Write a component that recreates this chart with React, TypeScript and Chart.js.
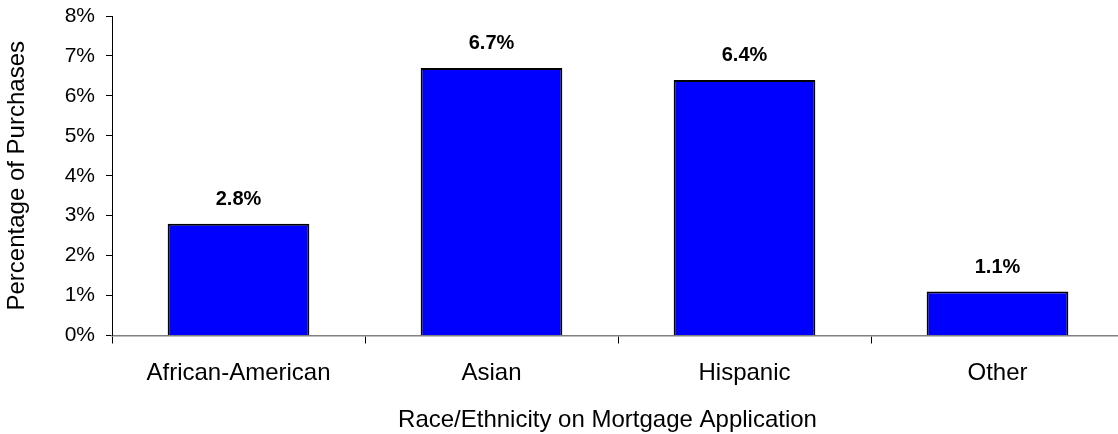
import { useEffect, useRef } from "react";
import { Chart, registerables } from "chart.js";

Chart.register(...registerables);

const categories = ["African-American", "Asian", "Hispanic", "Other"];
const purchaseShare = [2.8, 6.7, 6.4, 1.1];
const yTickValues = [0, 1, 2, 3, 4, 5, 6, 7, 8];
const yAxisTitle = "Percentage of Purchases";
const xAxisTitle = "Race/Ethnicity on Mortgage Application";

const FONT = '"Liberation Sans", Arial, Helvetica, sans-serif';

const valueLabels = {
  id: "valueLabels",
  afterDatasetsDraw(chart: any) {
    const ctx = chart.ctx;
    const meta = chart.getDatasetMeta(0);
    ctx.save();
    ctx.font = `bold 20px ${FONT}`;
    ctx.fillStyle = "#000";
    ctx.textAlign = "center";
    ctx.textBaseline = "alphabetic";
    meta.data.forEach((el: any, i: number) => {
      ctx.fillText(purchaseShare[i].toFixed(1) + "%", el.x, el.y - 18.5);
    });
    ctx.restore();
  },
};

const xTitlePlugin = {
  id: "xTitlePlugin",
  afterDraw(chart: any) {
    const ctx = chart.ctx;
    const area = chart.chartArea;
    ctx.save();
    ctx.font = `24px ${FONT}`;
    ctx.fillStyle = "#000";
    ctx.textAlign = "center";
    ctx.textBaseline = "middle";
    ctx.fillText(xAxisTitle, (area.left + area.right) / 2 - 10.5, chart.height - 14);
    ctx.restore();
  },
};

export default function App() {
  const canvasRef = useRef<HTMLCanvasElement | null>(null);

  useEffect(() => {
    if (!canvasRef.current) return;
    const chart = new Chart(canvasRef.current, {
      type: "bar",
      data: {
        labels: categories,
        datasets: [
          {
            data: purchaseShare,
            backgroundColor: "#0000FF",
            borderColor: "#000000",
            borderWidth: 2,
            barPercentage: 0.56,
            categoryPercentage: 1,
          },
        ],
      },
      plugins: [valueLabels, xTitlePlugin],
      options: {
        animation: false,
        responsive: true,
        maintainAspectRatio: false,
        layout: { padding: { top: 16, right: 0, bottom: 0, left: 0 } },
        plugins: {
          legend: { display: false },
          tooltip: { enabled: false },
        },
        scales: {
          x: {
            offset: true,
            grid: {
              offset: true,
              drawOnChartArea: false,
              drawTicks: true,
              tickLength: 8,
              tickColor: "#000",
              tickWidth: 1,
            },
            border: { color: "#808080", width: 1.5 },
            ticks: {
              color: "#000",
              font: { family: FONT, size: 24 },
              padding: 15,
              maxRotation: 0,
              autoSkip: false,
            },
            afterFit: (scale: any) => {
              scale.height = 98.5;
              scale.paddingLeft = 0;
              scale.paddingRight = 0;
            },
          },
          y: {
            min: yTickValues[0],
            max: yTickValues[yTickValues.length - 1],
            grid: {
              drawOnChartArea: false,
              drawTicks: true,
              tickLength: 6,
              tickColor: "#000",
            },
            border: { color: "#000", width: 1 },
            ticks: {
              stepSize: 1,
              color: "#000",
              font: { family: FONT, size: 21 },
              padding: 11,
              callback: (v: any) => v + "%",
            },
            title: {
              display: true,
              text: yAxisTitle,
              color: "#000",
              font: { family: FONT, size: 24 },
              padding: { top: 3, bottom: 0 },
            },
            afterFit: (scale: any) => {
              scale.width = 112;
              scale.paddingTop = 0;
              scale.paddingBottom = 0;
            },
          },
        },
      },
    });
    return () => chart.destroy();
  }, []);

  return (
    <div
      style={{
        position: "absolute",
        left: 0,
        top: 0,
        width: 1118,
        height: 434,
        overflow: "hidden",
        background: "#fff",
      }}
    >
      <div style={{ position: "relative", width: 1124, height: 434 }}>
        <canvas ref={canvasRef} />
      </div>
    </div>
  );
}
